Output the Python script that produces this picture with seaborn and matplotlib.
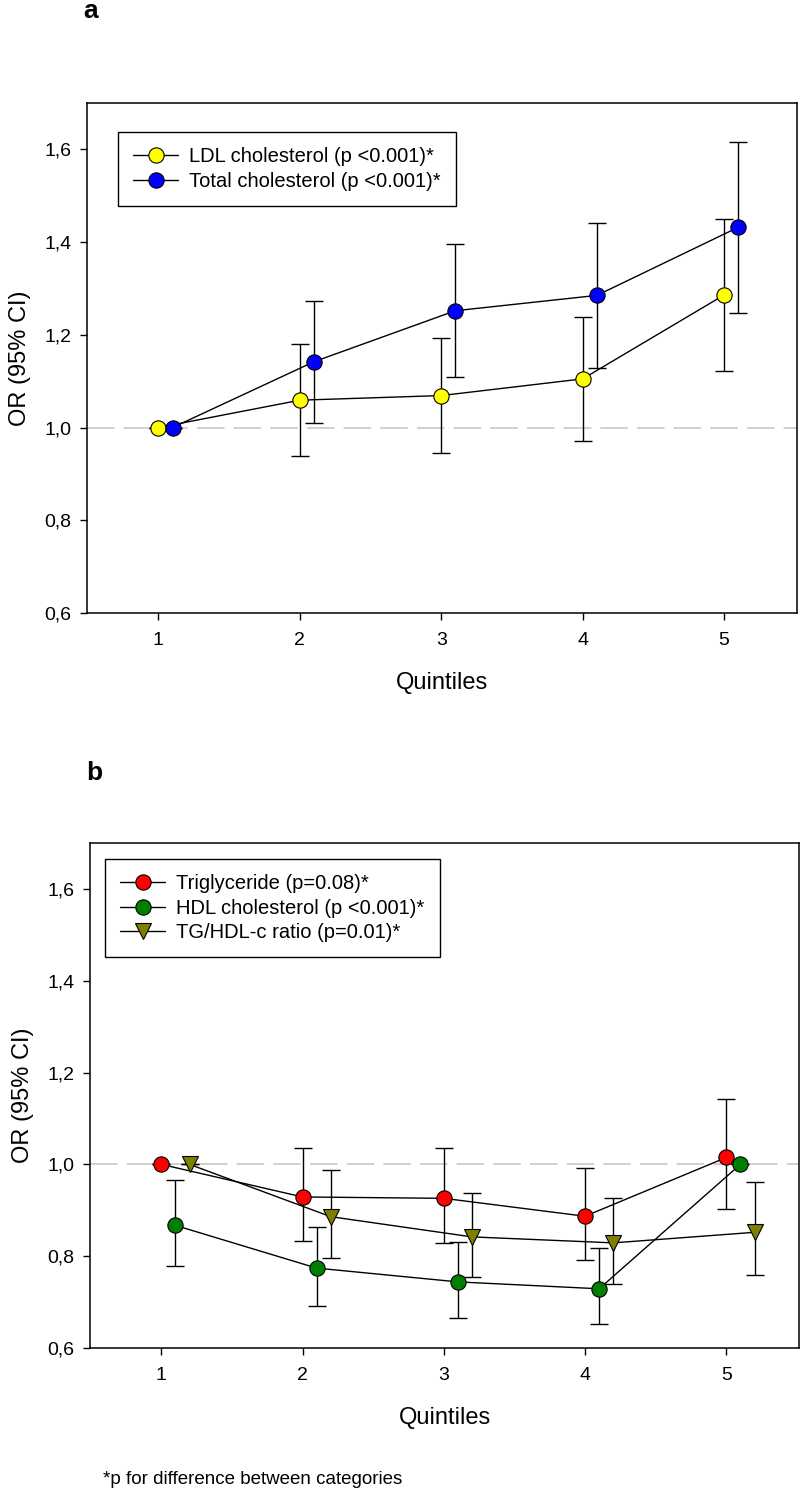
import numpy as np
import pandas as pd
import matplotlib
matplotlib.use("Agg")
import matplotlib.pyplot as plt
import seaborn as sns
from matplotlib.ticker import FuncFormatter

sns.set_theme(style="ticks")
plt.rcParams['font.family'] = ['Liberation Sans', 'DejaVu Sans']
plt.rcParams['text.color'] = 'black'
plt.rcParams['axes.labelcolor'] = 'black'
plt.rcParams['xtick.color'] = 'black'
plt.rcParams['ytick.color'] = 'black'
plt.rcParams['axes.edgecolor'] = 'black'

# ---------------- data ----------------
quintiles = [1, 2, 3, 4, 5]

# Panel a
ldl_or = [1.00, 1.059, 1.069, 1.105, 1.286]
ldl_lo = [1.00, 0.938, 0.946, 0.971, 1.122]
ldl_hi = [1.00, 1.181, 1.194, 1.238, 1.449]

tc_or = [1.00, 1.142, 1.252, 1.285, 1.432]
tc_lo = [1.00, 1.009, 1.108, 1.129, 1.247]
tc_hi = [1.00, 1.272, 1.396, 1.441, 1.615]

# Panel b
tg_or = [1.00, 0.929, 0.926, 0.887, 1.015]
tg_lo = [1.00, 0.834, 0.829, 0.792, 0.902]
tg_hi = [1.00, 1.035, 1.035, 0.992, 1.143]

hdl_or = [0.867, 0.774, 0.744, 0.729, 1.00]
hdl_lo = [0.779, 0.692, 0.666, 0.652, 1.00]
hdl_hi = [0.965, 0.863, 0.830, 0.817, 1.00]

ratio_or = [1.00, 0.886, 0.842, 0.829, 0.852]
ratio_lo = [1.00, 0.796, 0.754, 0.740, 0.758]
ratio_hi = [1.00, 0.987, 0.938, 0.927, 0.961]

y_ticks = [0.6, 0.8, 1.0, 1.2, 1.4, 1.6]

panel_a = [
    ("LDL cholesterol (p <0.001)*", ldl_or, ldl_lo, ldl_hi, 0.0, "o", "#FFFF00"),
    ("Total cholesterol (p <0.001)*", tc_or, tc_lo, tc_hi, 0.1, "o", "#0000FF"),
]
panel_b = [
    ("Triglyceride (p=0.08)*", tg_or, tg_lo, tg_hi, 0.0, "o", "#FF0000"),
    ("HDL cholesterol (p <0.001)*", hdl_or, hdl_lo, hdl_hi, 0.1, "o", "#008000"),
    ("TG/HDL-c ratio (p=0.01)*", ratio_or, ratio_lo, ratio_hi, 0.2, "v", "#808000"),
]

W, H = 800, 1492
fig = plt.figure(figsize=(W / 100, H / 100), dpi=100)

def frac_axes(left, top, right, bottom):
    return fig.add_axes([left / W, 1 - bottom / H, (right - left) / W, (bottom - top) / H])

ax_a = frac_axes(87, 103, 797, 613)
ax_b = frac_axes(90, 843, 799, 1348)

def draw_panel(ax, series, legend_anchor):
    ax.axhline(1.0, color="#c4c4c4", lw=1.1, dashes=(18, 6), zorder=1)
    for label, vals, lo, hi, off, mk, col in series:
        xs = np.array(quintiles, dtype=float) + off
        v = np.array(vals); l = np.array(lo); h = np.array(hi)
        df = pd.DataFrame({"Quintile": xs, "OR": v})
        ax.errorbar(xs, v, yerr=[v - l, h - v], fmt="none", ecolor="black",
                    elinewidth=1.0, capsize=6.5, capthick=1.0, zorder=2)
        sns.lineplot(data=df, x="Quintile", y="OR", ax=ax, color="black", lw=1.0,
                     marker=mk, markersize=11, markerfacecolor=col,
                     markeredgecolor="black", markeredgewidth=0.8,
                     label=label, zorder=3, errorbar=None)
    ax.set_xlim(0.495, 5.515)
    ax.set_ylim(0.6, 1.7)
    ax.set_xticks(quintiles)
    ax.set_yticks(y_ticks)
    ax.yaxis.set_major_formatter(FuncFormatter(lambda y, p: f"{y:.1f}".replace(".", ",")))
    ax.tick_params(axis="both", direction="out", length=5, width=1.0, labelsize=14,
                   colors="black", top=False, right=False)
    ax.tick_params(axis="y", pad=6)
    ax.tick_params(axis="x", pad=9)
    for s in ax.spines.values():
        s.set_visible(True)
        s.set_color("black")
        s.set_linewidth(1.1)
    ax.set_xlabel("Quintiles", fontsize=17, labelpad=16, color="black")
    ax.set_ylabel("OR (95% CI)", fontsize=17, labelpad=10, color="black")
    leg = ax.legend(loc="upper left", bbox_to_anchor=legend_anchor, borderaxespad=0,
                    fontsize=14.5, frameon=True, fancybox=False, framealpha=1,
                    edgecolor="black", handlelength=2.25, handletextpad=0.55,
                    labelspacing=0.28, borderpad=0.75, labelcolor="black")
    leg.get_frame().set_linewidth(1.0)

draw_panel(ax_a, panel_a, ((118 - 87) / 710, (613 - 132) / 510))
draw_panel(ax_b, panel_b, ((105 - 90) / 709, (1348 - 859) / 505))

fig.text(83 / W, 1 - 18 / H, "a", fontsize=19, fontweight="bold", va="baseline",
         ha="left", color="black")
fig.text(86 / W, 1 - 780 / H, "b", fontsize=19, fontweight="bold", va="baseline",
         ha="left", color="black")
fig.text(103 / W, 1 - 1484 / H, "*p for difference between categories", fontsize=13.5,
         va="baseline", ha="left", color="black")

fig.savefig("out.png", dpi=100)
